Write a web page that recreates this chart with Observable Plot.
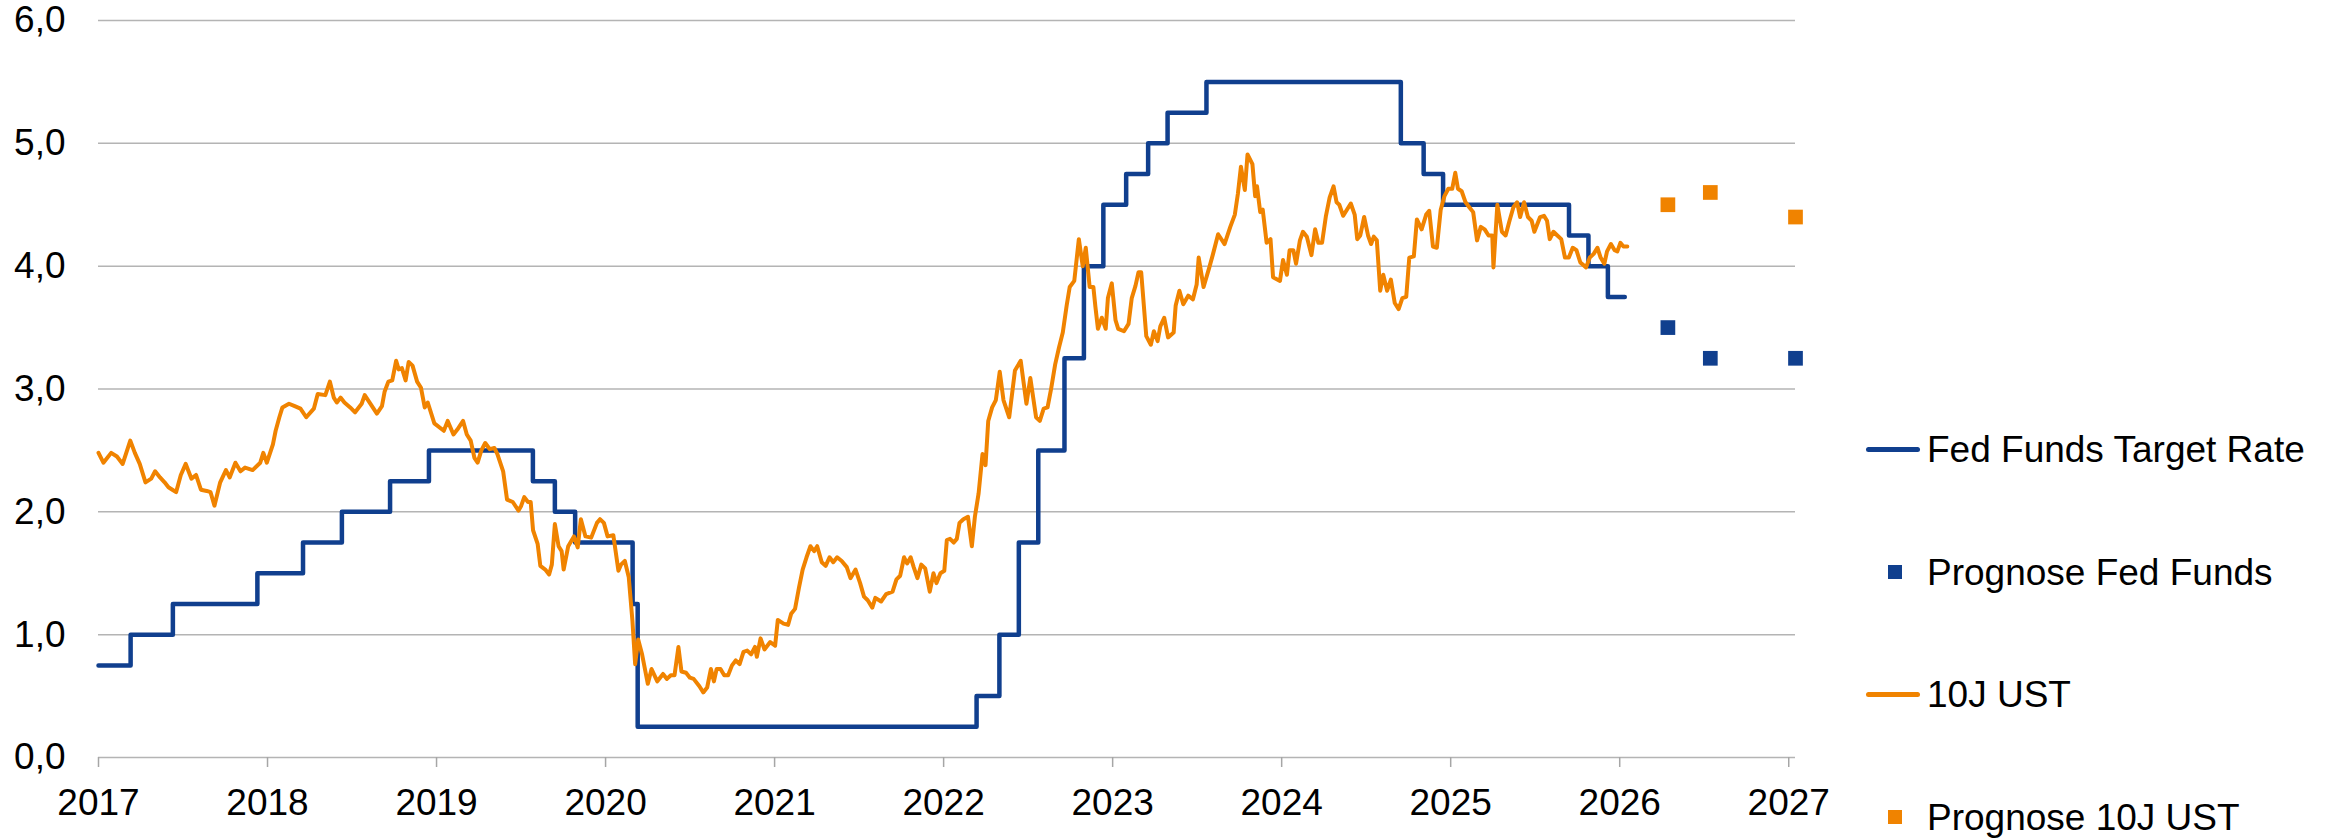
<!DOCTYPE html>
<html>
<head>
<meta charset="utf-8">
<script src="https://cdn.jsdelivr.net/npm/d3@7"></script>
<script src="https://cdn.jsdelivr.net/npm/@observablehq/plot@0.6"></script>
<style>
  html, body { margin: 0; padding: 0; background: #fff; }
  #wrap { position: relative; width: 2341px; height: 839px; overflow: hidden;
          font-family: "Liberation Sans", Arial, sans-serif; }
  #wrap svg { position: absolute; left: 0; top: 0; }
  .lg-text { position: absolute; font-size: 37px; line-height: 37px; height: 37px;
             color: #000; white-space: nowrap; }
  .lg-sw { position: absolute; }
</style>
</head>
<body>
<div id="wrap"></div>
<script>
// ---------- data ----------
const blue = "#103F8E";
const orange = "#F08300";

// Fed Funds Target Rate (upper bound), step changes (decimal years)
const fedDates = [2017.0, 2017.19, 2017.44, 2017.94, 2018.21, 2018.44, 2018.725, 2018.955,
  2019.57, 2019.70, 2019.82, 2020.16, 2020.19, 2022.195, 2022.33, 2022.445, 2022.56,
  2022.715, 2022.83, 2022.945, 2023.08, 2023.21, 2023.325, 2023.555, 2024.705, 2024.84,
  2024.955, 2025.70, 2025.815, 2025.93, 2026.03];
const fedRates = [0.75, 1.00, 1.25, 1.50, 1.75, 2.00, 2.25, 2.50,
  2.25, 2.00, 1.75, 1.25, 0.25, 0.50, 1.00, 1.75, 2.50,
  3.25, 4.00, 4.50, 4.75, 5.00, 5.25, 5.50, 5.00, 4.75,
  4.50, 4.25, 4.00, 3.75, 3.75];

// 10J UST yield (decimal years / percent)
const ustDates = [
  2017.000,2017.029,2017.075,2017.109,2017.143,2017.188,2017.215,2017.244,2017.278,2017.312,
  2017.335,2017.364,2017.391,2017.414,2017.437,2017.459,2017.487,2017.516,2017.550,2017.577,
  2017.606,2017.640,2017.663,2017.686,2017.720,2017.754,2017.776,2017.810,2017.840,2017.867,
  2017.912,2017.957,2017.975,2017.996,
  2018.032,2018.048,2018.070,2018.088,2018.127,2018.161,2018.195,2018.229,2018.274,2018.297,
  2018.342,2018.369,2018.392,2018.410,2018.432,2018.455,2018.489,2018.518,2018.557,2018.575,
  2018.613,2018.647,2018.677,2018.693,2018.715,2018.738,2018.761,2018.776,2018.795,2018.817,
  2018.835,2018.858,2018.885,2018.908,2018.930,2018.948,2018.987,
  2019.043,2019.066,2019.100,2019.123,2019.157,2019.179,2019.202,2019.224,2019.243,2019.265,
  2019.288,2019.315,2019.342,2019.360,2019.394,2019.417,2019.451,2019.485,2019.501,2019.519,
  2019.541,2019.557,2019.571,2019.598,2019.614,2019.643,2019.666,2019.682,2019.700,2019.722,
  2019.740,2019.752,2019.779,2019.813,2019.835,2019.854,2019.881,2019.915,2019.949,2019.967,
  2019.990,
  2020.012,2020.046,2020.076,2020.091,2020.114,2020.137,2020.159,2020.175,2020.193,2020.216,
  2020.250,2020.272,2020.306,2020.340,2020.363,2020.386,2020.408,2020.431,2020.449,2020.476,
  2020.499,2020.521,2020.555,2020.578,2020.601,2020.623,2020.641,2020.657,2020.680,2020.702,
  2020.725,2020.748,2020.770,2020.793,2020.816,2020.838,2020.861,2020.884,2020.895,2020.917,
  2020.940,2020.974,
  2021.003,2021.019,2021.053,2021.080,2021.098,2021.121,2021.144,2021.166,2021.189,2021.212,
  2021.234,2021.252,2021.279,2021.302,2021.325,2021.347,2021.370,2021.397,2021.427,2021.449,
  2021.479,2021.506,2021.529,2021.551,2021.578,2021.596,2021.630,2021.660,2021.698,2021.721,
  2021.743,2021.766,2021.784,2021.805,2021.823,2021.845,2021.868,2021.891,2021.918,2021.940,
  2021.958,2021.981,
  2022.004,2022.019,2022.038,2022.060,2022.078,2022.094,2022.117,2022.144,2022.167,2022.185,
  2022.207,2022.230,2022.248,2022.264,2022.287,2022.309,2022.332,2022.354,2022.388,2022.422,
  2022.456,2022.490,2022.513,2022.547,2022.569,2022.592,2022.615,2022.637,2022.660,2022.683,
  2022.705,2022.728,2022.746,2022.773,2022.800,2022.823,2022.841,2022.864,2022.886,2022.898,
  2022.913,2022.936,2022.959,2022.972,2022.995,
  2023.017,2023.033,2023.067,2023.094,2023.113,2023.135,2023.153,2023.169,2023.199,2023.226,
  2023.244,2023.266,2023.282,2023.305,2023.328,2023.361,2023.373,2023.395,2023.418,2023.447,
  2023.475,2023.497,2023.509,2023.538,2023.572,2023.594,2023.624,2023.662,2023.696,2023.723,
  2023.741,2023.759,2023.782,2023.798,2023.827,2023.843,2023.854,2023.873,2023.888,2023.911,
  2023.934,2023.949,2023.990,
  2024.008,2024.031,2024.047,2024.069,2024.085,2024.108,2024.126,2024.149,2024.176,2024.198,
  2024.217,2024.239,2024.262,2024.284,2024.307,2024.325,2024.341,2024.364,2024.386,2024.409,
  2024.432,2024.447,2024.465,2024.488,2024.511,2024.529,2024.545,2024.563,2024.583,2024.601,
  2024.624,2024.646,2024.669,2024.692,2024.714,2024.737,2024.755,2024.782,2024.800,2024.828,
  2024.855,2024.873,2024.895,2024.918,2024.941,2024.963,2024.986,
  2025.009,2025.027,2025.043,2025.065,2025.088,2025.110,2025.133,2025.156,2025.178,2025.201,
  2025.224,2025.246,2025.253,2025.276,2025.303,2025.325,2025.348,2025.371,2025.393,2025.411,
  2025.434,2025.457,2025.479,2025.495,2025.529,2025.552,2025.570,2025.586,2025.608,2025.631,
  2025.654,2025.676,2025.699,2025.722,2025.744,2025.767,2025.801,2025.823,2025.846,2025.868,
  2025.887,2025.909,2025.925,2025.948,2025.970,2025.986,
  2026.004,2026.022,2026.045];
const ustValues = [
  2.48,2.40,2.48,2.45,2.39,2.58,2.48,2.39,2.24,2.27,
  2.33,2.28,2.24,2.20,2.18,2.16,2.30,2.39,2.27,2.30,
  2.18,2.17,2.16,2.05,2.24,2.34,2.28,2.40,2.33,2.36,
  2.34,2.40,2.48,2.40,
  2.55,2.66,2.77,2.85,2.88,2.86,2.84,2.77,2.84,2.96,
  2.95,3.06,2.93,2.89,2.93,2.89,2.85,2.81,2.88,2.95,
  2.87,2.80,2.86,2.98,3.06,3.07,3.23,3.16,3.17,3.07,
  3.22,3.19,3.06,3.01,2.85,2.89,2.72,
  2.66,2.74,2.63,2.67,2.74,2.63,2.58,2.44,2.40,2.50,
  2.56,2.51,2.52,2.47,2.33,2.10,2.08,2.01,2.05,2.12,
  2.08,2.08,1.85,1.74,1.56,1.53,1.49,1.57,1.90,1.72,
  1.68,1.53,1.72,1.80,1.71,1.94,1.80,1.79,1.91,1.94,
  1.91,
  1.80,1.81,1.52,1.57,1.60,1.47,1.11,0.76,0.96,0.84,
  0.60,0.72,0.62,0.68,0.64,0.67,0.67,0.90,0.70,0.69,
  0.65,0.64,0.58,0.53,0.57,0.72,0.62,0.72,0.72,0.67,
  0.67,0.75,0.79,0.76,0.86,0.87,0.84,0.90,0.82,0.97,
  0.88,0.94,
  0.91,1.12,1.09,1.08,1.17,1.21,1.38,1.53,1.63,1.72,
  1.68,1.72,1.59,1.56,1.63,1.59,1.63,1.60,1.55,1.46,
  1.53,1.42,1.31,1.28,1.22,1.30,1.27,1.33,1.35,1.45,
  1.48,1.63,1.58,1.63,1.55,1.46,1.57,1.54,1.35,1.50,
  1.42,1.50,
  1.52,1.77,1.78,1.75,1.78,1.91,1.94,1.96,1.72,1.96,
  2.15,2.47,2.38,2.74,2.85,2.91,3.14,2.91,2.77,3.15,
  3.23,2.88,3.09,2.77,2.74,2.84,2.85,3.01,3.20,3.34,
  3.46,3.68,3.83,3.88,4.22,4.00,4.15,3.83,3.83,3.67,
  3.49,3.58,3.49,3.74,3.86,
  3.56,3.49,3.47,3.53,3.74,3.84,3.95,3.95,3.43,3.36,
  3.47,3.39,3.51,3.58,3.42,3.46,3.68,3.80,3.69,3.76,
  3.73,3.85,4.07,3.83,3.99,4.10,4.26,4.18,4.32,4.42,
  4.59,4.81,4.62,4.91,4.83,4.57,4.65,4.44,4.46,4.19,
  4.22,3.91,3.88,
  4.05,3.93,4.13,4.13,4.02,4.21,4.28,4.24,4.09,4.30,
  4.19,4.19,4.41,4.56,4.65,4.52,4.50,4.41,4.46,4.51,
  4.42,4.22,4.25,4.40,4.25,4.18,4.24,4.21,3.80,3.93,
  3.80,3.89,3.70,3.65,3.74,3.75,4.07,4.08,4.38,4.30,
  4.42,4.45,4.16,4.15,4.46,4.57,4.63,
  4.63,4.76,4.63,4.61,4.52,4.48,4.44,4.21,4.32,4.30,
  4.25,4.25,3.99,4.50,4.28,4.25,4.37,4.48,4.52,4.40,
  4.52,4.40,4.37,4.28,4.40,4.41,4.37,4.22,4.28,4.25,
  4.22,4.07,4.07,4.15,4.13,4.03,3.99,4.07,4.10,4.15,
  4.07,4.02,4.12,4.18,4.13,4.12,
  4.19,4.16,4.16];

// Forecasts
const forecastDates = [2026.285, 2026.536, 2027.04];
const forecastFed = [3.50, 3.25, 3.25];
const forecastUst = [4.50, 4.60, 4.40];

// Axis ticks
const xTicks = [2017, 2018, 2019, 2020, 2021, 2022, 2023, 2024, 2025, 2026, 2027];
const yTicks = [0, 1, 2, 3, 4, 5, 6];

// Legend
const legendLabels = ["Fed Funds Target Rate", "Prognose Fed Funds", "10J UST", "Prognose 10J UST"];
const legendKinds = ["line", "square", "line", "square"];
const legendColors = [blue, blue, orange, orange];

// ---------- build ----------
const fed = fedDates.map((t, i) => ({t, v: fedRates[i]}));
const ust = ustDates.map((t, i) => ({t, v: ustValues[i]}));
const fFed = forecastDates.map((t, i) => ({t, v: forecastFed[i]}));
const fUst = forecastDates.map((t, i) => ({t, v: forecastUst[i]}));

const font = "Liberation Sans, Arial, sans-serif";

const chart = Plot.plot({
  width: 2341,
  height: 839,
  marginLeft: 98,
  marginRight: 546,
  marginTop: 20,
  marginBottom: 82,
  x: {type: "linear", domain: [2017, 2027.04], label: null},
  y: {domain: [0, 6], label: null},
  style: {fontFamily: font, fontSize: "37px", color: "#000", background: "#fff", overflow: "visible"},
  marks: [
    Plot.gridY(yTicks, {stroke: "#b4b4b4", strokeOpacity: 1, strokeWidth: 1.5}),
    Plot.axisY(yTicks, {tickSize: 0, tickPadding: 33, label: null, fill: "#000",
      tickFormat: d => d.toFixed(1).replace(".", ","), fontSize: 37}),
    Plot.axisX(xTicks, {tickSize: 10, tickPadding: 21, label: null, stroke: "#a6a6a6",
      strokeWidth: 1.5, fill: "#000", tickFormat: d => String(d), fontSize: 37}),
    Plot.line(fed, {x: "t", y: "v", curve: "step-after", stroke: blue, strokeWidth: 4.5,
      strokeLinejoin: "round", strokeLinecap: "round"}),
    Plot.line(ust, {x: "t", y: "v", stroke: orange, strokeWidth: 4,
      strokeLinejoin: "round", strokeLinecap: "round"}),
    Plot.dot(fFed, {x: "t", y: "v", symbol: "square", r: 8.3, fill: blue, stroke: "none"}),
    Plot.dot(fUst, {x: "t", y: "v", symbol: "square", r: 8.3, fill: orange, stroke: "none"})
  ]
});

const wrap = document.getElementById("wrap");
wrap.appendChild(chart);

// Legend (HTML, right of plot)
const rowCenters = [449, 572, 694, 817];
legendLabels.forEach((label, i) => {
  const cy = rowCenters[i];
  const sw = document.createElement("div");
  sw.className = "lg-sw";
  if (legendKinds[i] === "line") {
    Object.assign(sw.style, {left: "1866px", top: (cy - 2.5) + "px", width: "54px", height: "5px",
      background: legendColors[i], borderRadius: "2.5px"});
  } else {
    Object.assign(sw.style, {left: "1888px", top: (cy - 7) + "px", width: "14px", height: "14px",
      background: legendColors[i]});
  }
  wrap.appendChild(sw);
  const tx = document.createElement("div");
  tx.className = "lg-text";
  tx.textContent = label;
  Object.assign(tx.style, {left: "1927px", top: (cy - 18) + "px"});
  wrap.appendChild(tx);
});
</script>
</body>
</html>
